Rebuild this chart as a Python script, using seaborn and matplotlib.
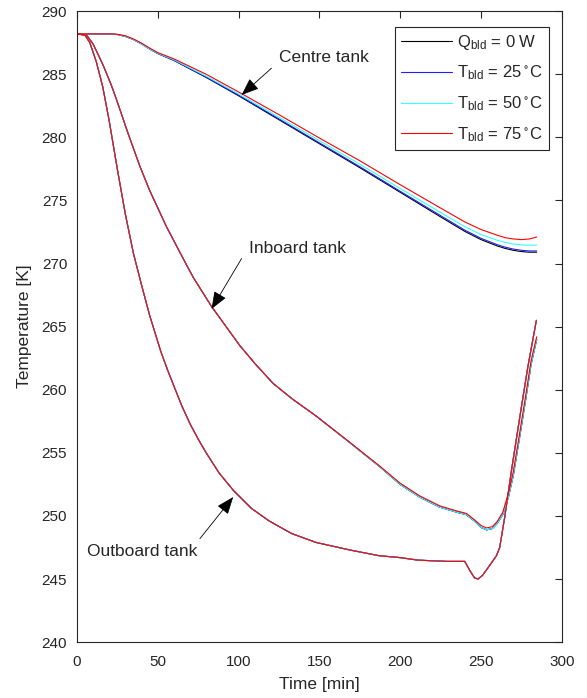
import numpy as np
import pandas as pd
import matplotlib
matplotlib.use('Agg')
import matplotlib.pyplot as plt
import seaborn as sns

# legend labels / series
cases = [r'Q$_\mathregular{bld}$ = 0 W',
         r'T$_\mathregular{bld}$ = 25$^\circ$C',
         r'T$_\mathregular{bld}$ = 50$^\circ$C',
         r'T$_\mathregular{bld}$ = 75$^\circ$C']
colours = ['#000000', '#1f1fff', '#33ffff', '#ff0000']

# centre tank, one curve per case
centre_t = [0, 20, 25, 30, 35, 40, 45, 50, 60, 80, 100, 125, 150, 175, 200, 225, 240, 250, 260, 265, 270, 275, 280, 284.5]
centre_q0 = [288.2, 288.2, 288.15, 288.0, 287.75, 287.4, 287.0, 286.65, 286.1, 284.75, 283.3, 281.4, 279.5, 277.6, 275.65, 273.7, 272.55, 271.9, 271.4, 271.2, 271.05, 270.95, 270.9, 270.9]
centre_25 = [288.2, 288.2, 288.15, 288.0, 287.75, 287.4, 287.0, 286.65, 286.1, 284.78, 283.35, 281.46, 279.57, 277.68, 275.73, 273.8, 272.65, 272.0, 271.5, 271.3, 271.15, 271.05, 271.0, 271.0]
centre_50 = [288.2, 288.2, 288.15, 288.0, 287.75, 287.4, 287.0, 286.67, 286.15, 284.85, 283.45, 281.6, 279.75, 277.88, 275.95, 274.05, 272.93, 272.3, 271.85, 271.68, 271.55, 271.48, 271.45, 271.47]
centre_75 = [288.2, 288.2, 288.17, 288.05, 287.8, 287.47, 287.08, 286.72, 286.22, 285.0, 283.6, 281.8, 279.95, 278.15, 276.25, 274.4, 273.3, 272.7, 272.25, 272.05, 271.95, 271.9, 271.95, 272.1]

# inboard tank
inboard_t = [0, 6, 10, 13, 16.3, 21.4, 24.5, 31.7, 39, 45, 55.5, 67.8, 72, 83.3, 100.8, 110, 121.4, 133, 148.2, 168, 187.4, 200, 212, 224.5, 235, 241, 246, 250, 253.5, 257, 260, 263.5, 267, 270, 274, 278, 281, 284.5]
inboard_q0 = [288.2, 288.1, 287.4, 286.6, 285.7, 284.1, 283.0, 280.3, 277.7, 275.8, 272.9, 269.9, 268.9, 266.6, 263.5, 262.1, 260.5, 259.3, 257.9, 255.9, 253.9, 252.5, 251.5, 250.7, 250.3, 250.1, 249.6, 249.1, 248.9, 249.0, 249.4, 250.1, 251.5, 253.2, 256.3, 259.5, 262.0, 264.0]
inboard_75 = [288.2, 288.1, 287.4, 286.6, 285.7, 284.1, 283.0, 280.3, 277.7, 275.8, 272.9, 269.9, 268.9, 266.6, 263.5, 262.1, 260.5, 259.3, 257.9, 255.92, 253.95, 252.6, 251.6, 250.8, 250.4, 250.2, 249.7, 249.25, 249.05, 249.15, 249.55, 250.3, 251.8, 253.5, 256.6, 259.8, 262.3, 264.2]

# outboard tank
outboard_t = [0, 5, 8, 12, 16, 20, 25, 30, 35, 40, 45, 52, 56, 60, 65, 70, 75, 80, 88, 97, 108, 119, 133, 148, 169, 187, 200, 211, 229, 240, 243, 246, 248.2, 251, 254.4, 259.6, 261.6, 264.7, 269, 274, 279, 284.3]
outboard_T = [288.2, 288.1, 287.5, 286.0, 284.0, 281.3, 277.5, 273.9, 270.8, 268.3, 265.9, 263.0, 261.6, 260.3, 258.7, 257.3, 256.1, 255.0, 253.4, 252.0, 250.6, 249.6, 248.6, 247.9, 247.3, 246.85, 246.7, 246.5, 246.4, 246.4, 245.7, 245.1, 245.0, 245.3, 245.9, 246.85, 247.5, 249.9, 253.7, 257.8, 261.8, 265.5]

frames = []
centre = [centre_q0, centre_25, centre_50, centre_75]
inboard = [inboard_q0, inboard_q0, inboard_q0, inboard_75]
for i, c in enumerate(cases):
    frames.append(pd.DataFrame({'time': centre_t, 'temp': centre[i], 'case': c, 'tank': 'centre'}))
    frames.append(pd.DataFrame({'time': inboard_t, 'temp': inboard[i], 'case': c, 'tank': 'inboard'}))
    frames.append(pd.DataFrame({'time': outboard_t, 'temp': outboard_T, 'case': c, 'tank': 'outboard'}))
df = pd.concat(frames, ignore_index=True)

sns.set_theme(style='white')
plt.rcParams['font.family'] = ['Liberation Sans', 'DejaVu Sans']
plt.rcParams['mathtext.default'] = 'regular'
grey = '#262626'

fig = plt.figure(figsize=(5.87, 6.98), dpi=100)
ax = fig.add_axes([0.131, 0.080, 0.826, 0.904])

sns.lineplot(data=df, x='time', y='temp', hue='case', units='tank', estimator=None,
             hue_order=cases, palette=colours, linewidth=0.8, ax=ax)

ax.set_xlim(0, 300)
ax.set_ylim(240, 290)
ax.set_xticks(np.arange(0, 301, 50))
ax.set_yticks(np.arange(240, 291, 5))
ax.tick_params(direction='in', top=True, right=True, length=5, width=0.8,
               labelsize=11, colors=grey)
ax.tick_params(axis='x', pad=9)
ax.tick_params(axis='y', pad=7)
for s in ax.spines.values():
    s.set_color(grey)
    s.set_linewidth(0.8)
ax.set_xlabel('Time [min]', fontsize=12.5, color=grey, labelpad=6)
ax.set_ylabel('Temperature [K]', fontsize=12.5, color=grey, labelpad=7)

handles, labels = ax.get_legend_handles_labels()
leg = ax.legend(handles, labels, loc='upper right', bbox_to_anchor=(0.973, 0.975),
                borderaxespad=0, fontsize=12, fancybox=False, framealpha=1,
                edgecolor=grey, handlelength=3.1, handletextpad=0.25,
                labelspacing=0.72, borderpad=0.35)
leg.get_frame().set_linewidth(0.8)

arrow = dict(arrowstyle='-|>,head_length=0.9,head_width=0.35', color='black', lw=0.6,
             shrinkA=0, shrinkB=0)
# arrows
ax.annotate('', xy=(101.9, 283.36), xytext=(120.4, 285.48), arrowprops=arrow)
ax.annotate('', xy=(83.3, 266.4), xytext=(101.9, 270.4), arrowprops=arrow)
ax.annotate('', xy=(96.7, 251.5), xytext=(76.1, 248.2), arrowprops=arrow)
# labels
ax.text(124.9, 286.3, 'Centre tank', fontsize=12.5, color=grey, va='center', ha='left')
ax.text(106.6, 271.2, 'Inboard tank', fontsize=12.5, color=grey, va='center', ha='left')
ax.text(74.8, 247.2, 'Outboard tank', fontsize=12.5, color=grey, va='center', ha='right')

fig.savefig('out.png', dpi=100)
